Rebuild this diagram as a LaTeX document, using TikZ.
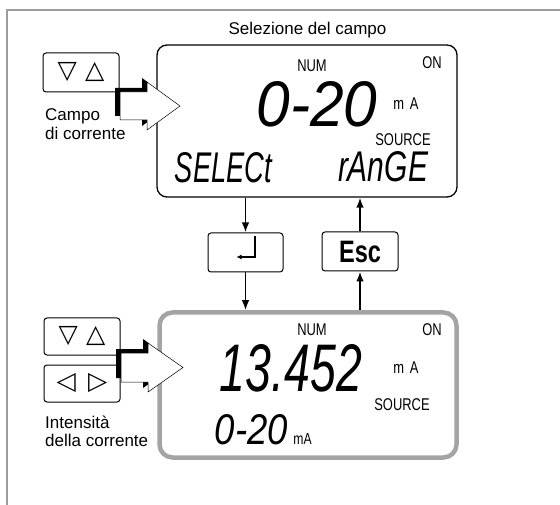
\documentclass[tikz,border=0pt]{standalone}
\usepackage{fontspec}
\usepackage{graphicx}
\setmainfont{Liberation Sans}
\newfontfamily\cond[FakeStretch=0.76]{Liberation Sans}
\newfontfamily\sym{DejaVu Sans}
\usetikzlibrary{arrows.meta,calc}
\definecolor{framegray}{HTML}{9C9C9C}
\definecolor{dispgray}{HTML}{A4A4A4}
\tikzset{
  keybox/.style={draw, rounded corners=3pt, line width=1pt, inner sep=0pt},
  keysym/.style={keybox, font=\sym\fontsize{25}{25}\selectfont},
  disp/.style={draw, rounded corners=10pt, line width=1.3pt, inner sep=0pt},
  small/.style={font=\cond\fontsize{17}{19}\selectfont, inner sep=0pt},
  lbl/.style={font=\fontsize{17}{19}\selectfont, inner sep=0pt, align=left},
  lcd/.style={inner sep=0pt},
  flow/.style={line width=1.7pt, -{Latex[length=10pt,width=7.5pt]}},
  blockarrow/.style={fill=white, draw=black, line width=0.5pt, line join=miter}
}
\begin{document}
\begin{tikzpicture}[x=1pt,y=-1pt]
\useasboundingbox (0,0) rectangle (560,505);
% frame
\draw[framegray, line width=1.3pt] (560,10) -- (7,10) -- (7,505);

% title
\node[lbl] (title) at (307.5,30) {Selezione del campo};

% displays
\node[disp, minimum width=300pt, minimum height=152pt] (topdisp) at (307,121) {};
\node[disp, draw=dispgray, line width=4.5pt, rounded corners=13pt, minimum width=297pt, minimum height=145pt] (botdisp) at (308,385) {};

% top display content
\node[small] (num1) at (312,65.5) {NUM};
\node[small] (on1) at (432,63) {ON};
\node[lcd] (val1) at (317,104.5) {\resizebox{121pt}{45pt}{\itshape 0-20}};
\node[small] (ma1) at (406,104) {m\,\,A};
\node[small] (src1) at (403,140) {SOURCE};
\node[lcd] (sel) at (223.5,168) {\resizebox{97pt}{30pt}{\itshape SELECt}};
\node[lcd] (rng) at (383,167) {\resizebox{90pt}{30pt}{\itshape rAnGE}};

% bottom display content
\node[small] (num2) at (312,330) {NUM};
\node[small] (on2) at (432,330) {ON};
\node[lcd] (val2) at (291,368.5) {\resizebox{142pt}{47pt}{\itshape 13.452}};
\node[small] (ma2) at (406,368) {m\,\,A};
\node[small] (src2) at (402,405) {SOURCE};
\node[lcd] (rng2) at (251.5,430) {\resizebox{73pt}{30pt}{\itshape 0-20}};
\node[small, font=\cond\fontsize{16}{18}\selectfont] (ma3) at (302.5,439) {mA};

% keys
\node[keysym, minimum width=76pt, minimum height=39pt] (k1) at (81,72.5) {▽\,\,△};
\node[keysym, minimum width=76pt, minimum height=37pt] (k2) at (82,336.5) {▽\,\,△};
\node[keysym, minimum width=76pt, minimum height=37pt] (k3) at (82,383.5) {◁\,\,\,▷};
\node[keybox, minimum width=75pt, minimum height=39pt] (enter) at (245.5,252.5) {};
\node[keybox, minimum width=76pt, minimum height=39pt, font=\cond\bfseries\fontsize{31}{31}\selectfont] (esc) at (360,251.5) {Esc};

% enter symbol
\draw[line width=1.2pt, -{Latex[length=5pt,width=5pt]}] ($(enter.center)+(9.5,-16.5)$) -- ($(enter.center)+(9.5,4.5)$) -- ($(enter.center)+(-9,4.5)$);

% labels
\node[lbl, anchor=base west] (l1) at (45,121) {Campo};
\node[lbl, anchor=base west] (l2) at (45,140) {di corrente};
\node[lbl, anchor=base west] (l3) at (45,428) {Intensità};
\node[lbl, anchor=base west] (l4) at (45,446) {della corrente};

% flow arrows
\draw[flow] (topdisp.south -| enter.north) -- (enter.north);
\draw[flow] (enter.south) -- (botdisp.north -| enter.south);
\draw[flow] (botdisp.north -| esc.south) -- (esc.south);
\draw[flow] (esc.north) -- (topdisp.south -| esc.north);

% block arrow top
\begin{scope}
\clip (100,60) rectangle (147,145);
\fill[black, shift={(-5,-4)}] (120,92) -- (147,92) -- (147,82) -- (180,106) -- (147,130) -- (147,120) -- (120,120) -- cycle;
\end{scope}
\draw[blockarrow] (120,92) -- (147,92) -- (147,82) -- (180,106) -- (147,130) -- (147,120) -- (120,120) -- cycle;

% block arrow bottom
\begin{scope}
\clip (100,320) rectangle (148,410);
\fill[black, shift={(-5,-4)}] (121,353) -- (148,353) -- (148,343) -- (183,367.5) -- (148,392) -- (148,382) -- (121,382) -- cycle;
\end{scope}
\draw[blockarrow] (121,353) -- (148,353) -- (148,343) -- (183,367.5) -- (148,392) -- (148,382) -- (121,382) -- cycle;
\end{tikzpicture}
\end{document}
